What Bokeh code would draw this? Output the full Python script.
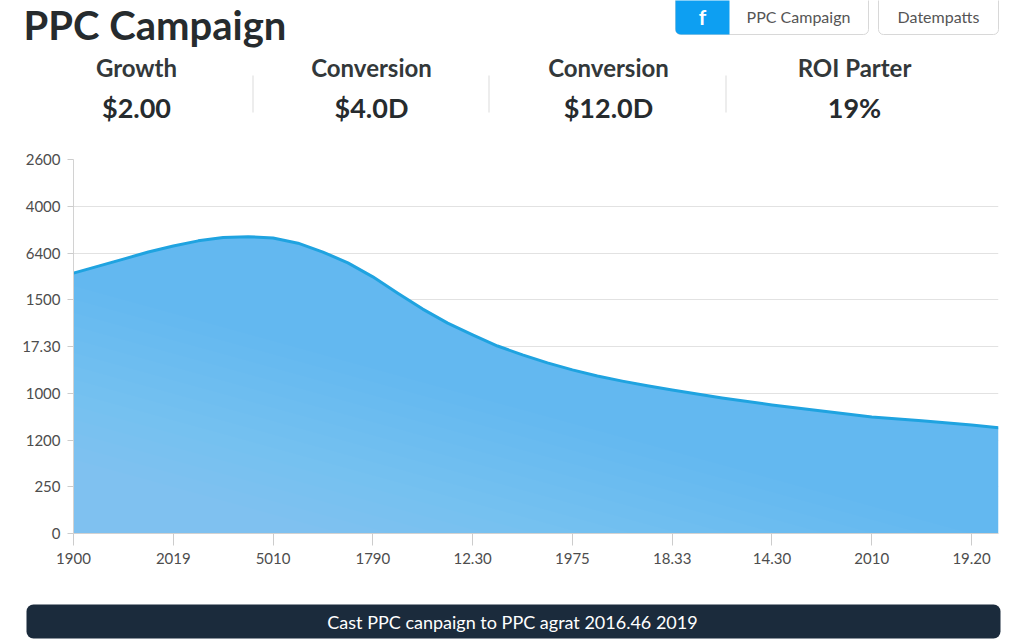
from bokeh.core.properties import value
from bokeh.embed import file_html
from bokeh.layouts import column
from bokeh.plotting import figure
from bokeh.resources import INLINE

# tick labels as they appear on the axes
x_labels = ["1900", "2019", "5010", "1790", "12.30", "1975", "18.33", "14.30", "2010", "19.20"]
y_labels = ["0", "250", "1200", "1000", "17.30", "1500", "6400", "4000", "2600"]

# curve, in axis positions (the axes are not numeric)
curve_x = [0, 0.25, 0.5, 0.75, 1, 1.25, 1.5, 1.75, 2, 2.25, 2.5, 2.75, 3, 3.25, 3.5, 3.75, 4,
           4.25, 4.5, 4.75, 5, 5.25, 5.5, 5.75, 6, 6.5, 7, 7.5, 8, 8.5, 9, 9.27]
curve_y = [5.57, 5.72, 5.87, 6.02, 6.15, 6.26, 6.33, 6.35, 6.32, 6.21, 6.02, 5.79, 5.49, 5.14, 4.80, 4.50, 4.25,
           4.01, 3.82, 3.65, 3.50, 3.37, 3.26, 3.16, 3.07, 2.90, 2.75, 2.62, 2.49, 2.41, 2.32, 2.26]

kpi_names = ["Growth", "Conversion", "Conversion", "ROI Parter"]
kpi_values = ["$2.00", "$4.0D", "$12.0D", "19%"]
kpi_centers = [136, 371, 608, 854]

FONT = "Lato"
DARK = "#262b2e"


def strip(height, y_top):
    # a blank figure whose data units are page pixels
    f = figure(width=1024, height=height, output_backend="svg", toolbar_location=None,
               x_range=(0, 1024), y_range=(y_top + height, y_top), x_axis_type=None, y_axis_type=None,
               min_border=0)
    f.outline_line_color = None
    f.grid.visible = False
    return f


def text(f, s, x, y, size, color=DARK, style="normal", align="center"):
    f.text([x], [y], text=[s], text_font=value(FONT), text_font_size=size, text_color=color,
           text_font_style=style, text_align=align, text_baseline="middle")


def box(f, left, right, top, bottom, fill, line=None, radius=0):
    f.quad(left=[left], right=[right], top=[top], bottom=[bottom], fill_color=fill,
           line_color=line, line_width=1, border_radius=radius)


# header
head = strip(149, 0)
box(head, 675, 868, -10, 34, "white", "#d8d8d8", 5)
box(head, 675, 729, -10, 34, "#0d9ff2", None, (0, 0, 0, 5))
box(head, 878, 998, -10, 34, "white", "#d8d8d8", 5)
for sx in (252, 488, 725):
    box(head, sx, sx + 1, 75, 112, "#dcdcdc")

text(head, "PPC Campaign", 23, 24, "40px", style="bold", align="left")
text(head, "f", 702, 16, "21px", "white", "bold")
text(head, "PPC Campaign", 798, 16, "16px", "#555555")
text(head, "Datempatts", 938, 16, "16px", "#555555")
for name, val, cx in zip(kpi_names, kpi_values, kpi_centers):
    text(head, name, cx, 67, "24px", "#33383a", "bold")
    text(head, val, cx, 107, "27px", DARK, "bold")

# chart
p = figure(width=1024, height=441, output_backend="svg", toolbar_location=None,
           x_range=(0, 9.27), y_range=(0, 8),
           min_border_left=73, min_border_right=26, min_border_top=10, min_border_bottom=57)
p.outline_line_color = None

p.xgrid.visible = False
p.ygrid.grid_line_color = "#e2e2e2"
p.ygrid.ticker = list(range(len(y_labels)))

p.xaxis.ticker = list(range(len(x_labels)))
p.yaxis.ticker = list(range(len(y_labels)))
p.xaxis.major_label_overrides = dict(enumerate(x_labels))
p.yaxis.major_label_overrides = dict(enumerate(y_labels))
for ax in (p.xaxis, p.yaxis):
    ax.axis_line_color = "#d2d2d2"
    ax.major_tick_line_color = "#cccccc"
    ax.major_tick_in = 0
    ax.minor_tick_line_color = None
    ax.major_label_text_font = FONT
    ax.major_label_text_font_size = "15px"
    ax.major_label_text_color = "#4d4d4d"
p.xaxis.major_tick_out = 12
p.yaxis.major_tick_out = 6
p.xaxis.major_label_standoff = 7
p.yaxis.major_label_standoff = 7

# area, then stacked white wedges for the lighter lower left side
p.varea(curve_x, [0] * len(curve_x), curve_y, fill_color="#63b8f0")
for i in range(14):
    k = 0.3 + 0.7 * i / 13
    p.patch([0, 9 * k, 0], [0, 0, 5.3 * k], fill_color="white", fill_alpha=0.016, line_color=None)
p.line(curve_x, curve_y, line_color="#1fa3e0", line_width=3, line_join="round")

# footer bar
foot = strip(50, 590)
box(foot, 26, 1000, 604, 638, "#1b2b3c", None, 7)
text(foot, "Cast PPC canpaign to PPC agrat 2016.46 2019", 512, 621, "18px", "white")

# nested columns so the frames are not aligned to each other
page = column(column(head), column(p), column(foot), spacing=0)
open("out.html", "w").write(file_html(page, INLINE))
